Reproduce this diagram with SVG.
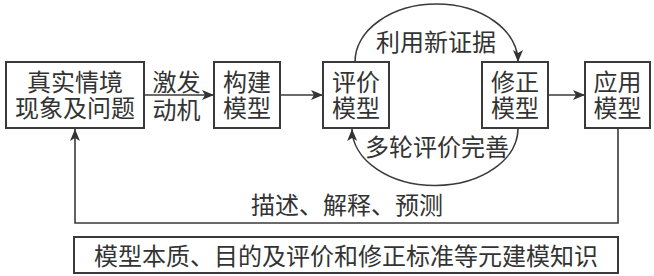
<svg xmlns="http://www.w3.org/2000/svg" width="654" height="276" viewBox="0 0 654 276">
<style>
.box{fill:#fff;stroke:#3a3a3a;stroke-width:2}
.t{font-family:"Noto Sans CJK SC","Noto Sans CJK JP",sans-serif;font-size:24px;fill:#333;text-anchor:middle}
.c{fill:none;stroke:#3a3a3a;stroke-width:1.6}
</style>
<defs>
<marker id="ah" viewBox="0 0 12 10" refX="12" refY="5" markerWidth="12" markerHeight="10" markerUnits="userSpaceOnUse" orient="auto">
<path d="M0,0 L12,5 L0,10 L3,5 Z" fill="#333"/>
</marker>
</defs>
<rect width="654" height="276" fill="#fff"/>
<g id="connectors">
<line class="c" x1="144" y1="95" x2="214" y2="95" marker-end="url(#ah)"/>
<line class="c" x1="280" y1="95" x2="323" y2="95" marker-end="url(#ah)"/>
<line class="c" x1="548" y1="95" x2="585" y2="95" marker-end="url(#ah)"/>
<path class="c" d="M618,128 V223 H75 V129" marker-end="url(#ah)"/>
<path class="c" d="M355,62 A81.5,58 0 0 1 518,62" marker-end="url(#ah)"/>
<path class="c" d="M518,128 A83,57 0 0 1 352,129" marker-end="url(#ah)"/>
<text class="t" x="176.5" y="91">激发</text>
<text class="t" x="176.5" y="119">动机</text>
<text class="t" x="436" y="51">利用新证据</text>
<text class="t" x="437" y="156">多轮评价完善</text>
<text class="t" x="347" y="214">描述、解释、预测</text>
</g>
<g id="n1"><rect class="box" x="6" y="62" width="138" height="66"/>
<text class="t" x="75" y="91">真实情境</text><text class="t" x="75" y="117">现象及问题</text></g>
<g id="n2"><rect class="box" x="214" y="62" width="66" height="66"/>
<text class="t" x="247" y="91">构建</text><text class="t" x="247" y="117">模型</text></g>
<g id="n3"><rect class="box" x="323" y="62" width="66" height="66"/>
<text class="t" x="356" y="91">评价</text><text class="t" x="356" y="117">模型</text></g>
<g id="n4"><rect class="box" x="482" y="62" width="66" height="66"/>
<text class="t" x="515" y="91">修正</text><text class="t" x="515" y="117">模型</text></g>
<g id="n5"><rect class="box" x="585" y="62" width="65" height="66"/>
<text class="t" x="617.5" y="91">应用</text><text class="t" x="617.5" y="117">模型</text></g>
<g id="n6"><rect class="box" x="74" y="237" width="544" height="36"/>
<text class="t" x="346" y="265">模型本质、目的及评价和修正标准等元建模知识</text></g>
</svg>
